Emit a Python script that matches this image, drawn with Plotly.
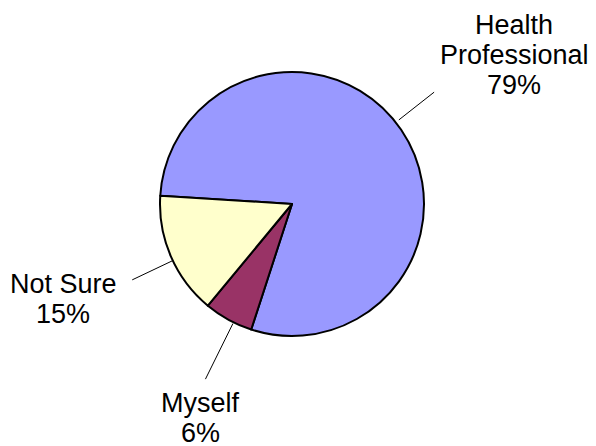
import math
import plotly.graph_objects as go

# --- data ---
labels = ["Health Professional", "Myself", "Not Sure"]
label_lines = [["Health", "Professional"], ["Myself"], ["Not Sure"]]
values = [79, 6, 15]
colors = ["#9999FF", "#993366", "#FFFFCC"]

# --- geometry (px in the screenshot) ---
OFF = 8  # page body margin
W, H = 596 - OFF, 446 - OFF
CX, CY, R = 292, 204, 132
START = 176.4  # standard angle (deg, ccw from 3 o'clock) where the first slice begins
LINE_H = 30

# leader line / label placement per slice (label centre is offset from the line end)
label_pos = [
    dict(da=4.0, r0=1.03, r1=1.37, dx=80, dy=-37),
    dict(da=2.5, r0=1.01, r1=1.48, dx=-5, dy=39),
    dict(da=2.0, r0=1.00, r1=1.34, dx=-69, dy=19),
]

FONT = dict(family="Liberation Sans, Arial, sans-serif", size=27, color="black")


def px_to_paper(x, y):
    return (x - OFF) / W, 1 - (y - OFF) / H


(dx0, dy1), (dx1, dy0) = px_to_paper(CX - R, CY - R), px_to_paper(CX + R, CY + R)

fig = go.Figure(go.Pie(
    labels=labels,
    values=values,
    sort=False,
    direction="clockwise",
    rotation=90 - START,
    marker=dict(colors=colors, line=dict(color="black", width=2)),
    textinfo="none",
    hoverinfo="label+percent",
    showlegend=False,
    domain=dict(x=[dx0, dx1], y=[dy0, dy1]),
))

total = sum(values)
cum = 0
shapes, annotations = [], []
for lines, v, pos in zip(label_lines, values, label_pos):
    mid = START - (cum + v / 2) / total * 360
    cum += v
    ang = math.radians(mid + pos["da"])
    x0, y0 = CX + R * pos["r0"] * math.cos(ang), CY - R * pos["r0"] * math.sin(ang)
    x1, y1 = CX + R * pos["r1"] * math.cos(ang), CY - R * pos["r1"] * math.sin(ang)
    p0, p1 = px_to_paper(x0, y0), px_to_paper(x1, y1)
    shapes.append(dict(type="line", xref="paper", yref="paper",
                       x0=p0[0], y0=p0[1], x1=p1[0], y1=p1[1],
                       line=dict(color="black", width=1)))
    all_lines = lines + [f"{round(v / total * 100)}%"]
    n = len(all_lines)
    for i, t in enumerate(all_lines):
        tx, ty = px_to_paper(x1 + pos["dx"], y1 + pos["dy"] + (i - (n - 1) / 2) * LINE_H)
        annotations.append(dict(
            text=t, x=tx, y=ty, xref="paper", yref="paper",
            xanchor="center", yanchor="middle",
            showarrow=False, font=FONT,
        ))

fig.update_layout(
    width=W, height=H,
    margin=dict(l=0, r=0, t=0, b=0),
    paper_bgcolor="white",
    plot_bgcolor="white",
    shapes=shapes,
    annotations=annotations,
)

fig.write_html("out.html")
